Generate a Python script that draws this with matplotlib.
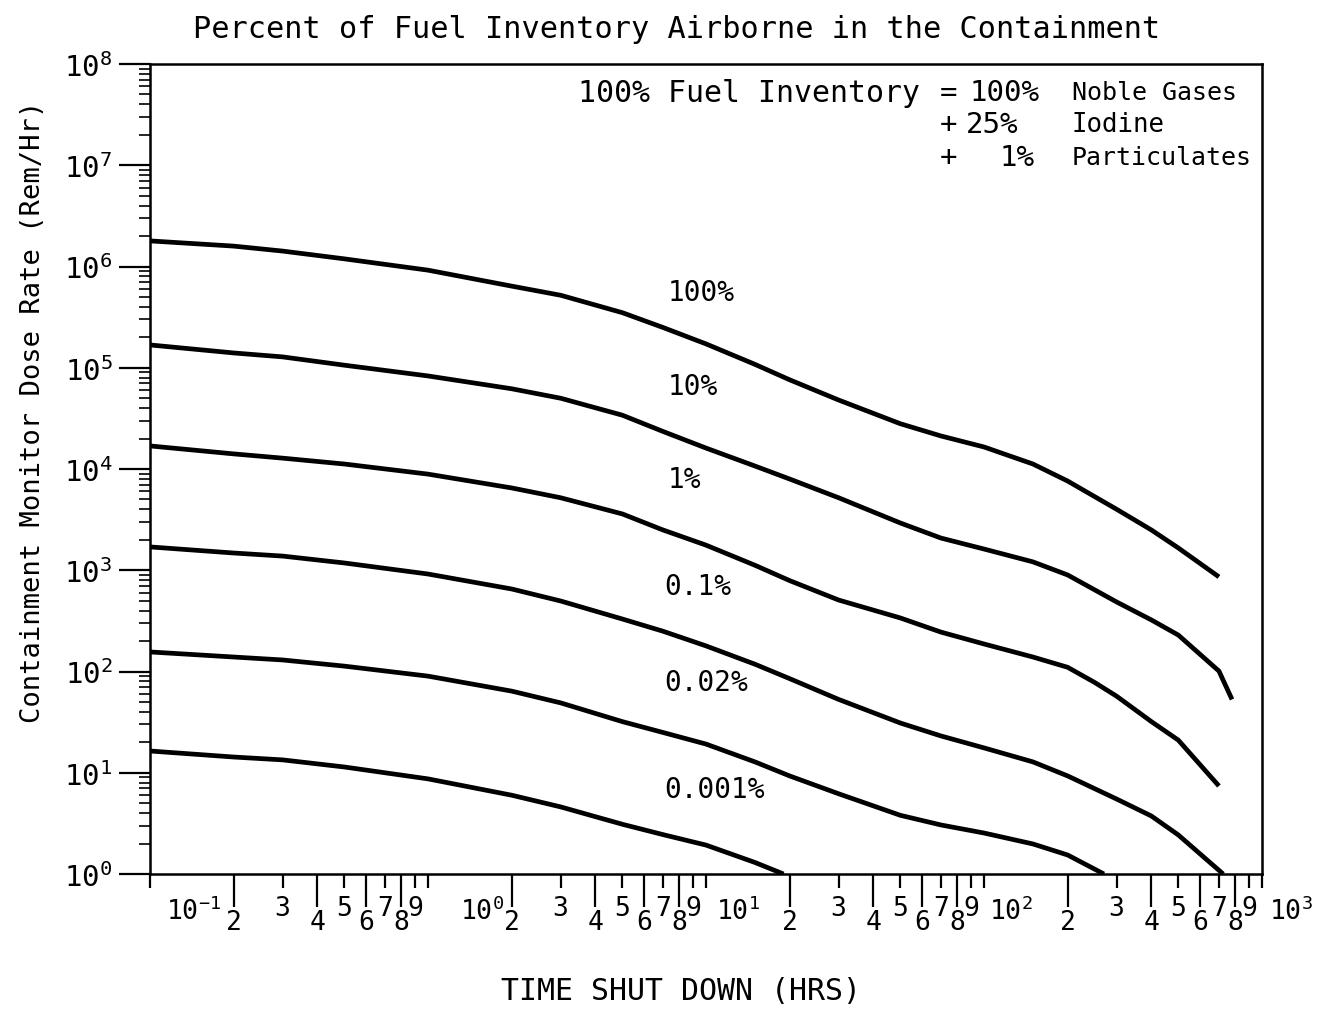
import matplotlib
matplotlib.use('Agg')
import matplotlib.pyplot as plt
import numpy as np
from matplotlib.ticker import FixedLocator, LogLocator, FuncFormatter, NullFormatter

plt.rcParams['font.family'] = 'DejaVu Sans Mono'
plt.rcParams['mathtext.fontset'] = 'custom'
plt.rcParams['mathtext.rm'] = 'DejaVu Sans Mono'
plt.rcParams['mathtext.it'] = 'DejaVu Sans Mono'
plt.rcParams['mathtext.default'] = 'rm'

# time after shutdown (hrs) and dose rate (Rem/Hr)
t_100 = [0.1, 0.2, 0.3, 0.5, 1, 2, 3, 5, 7, 10, 15, 20, 30, 50, 70, 100, 150,
         200, 300, 400, 500, 700]
dose_100 = [1.79e6, 1.59e6, 1.42e6, 1.19e6, 9.2e5, 6.4e5, 5.2e5, 3.5e5, 2.5e5,
            1.72e5, 1.08e5, 7.6e4, 4.8e4, 2.8e4, 2.12e4, 1.65e4, 1.12e4,
            7.6e3, 4.0e3, 2.5e3, 1.66e3, 860]

t_10 = [0.1, 0.2, 0.3, 0.5, 1, 2, 3, 5, 7, 10, 15, 20, 30, 50, 70, 100, 150,
        200, 300, 400, 500, 700, 780]
dose_10 = [1.68e5, 1.40e5, 1.28e5, 1.06e5, 8.3e4, 6.2e4, 5.0e4, 3.4e4, 2.35e4,
           1.61e4, 1.07e4, 7.96e3, 5.2e3, 2.93e3, 2.08e3, 1.62e3, 1.21e3,
           898, 486, 323, 229, 101, 53]

t_1 = [0.1, 0.2, 0.3, 0.5, 1, 2, 3, 5, 7, 10, 15, 20, 30, 50, 70, 100, 150,
       200, 250, 300, 400, 500, 700]
dose_1 = [1.69e4, 1.41e4, 1.28e4, 1.12e4, 8.9e3, 6.5e3, 5.2e3, 3.6e3, 2.5e3,
          1.77e3, 1.12e3, 790, 508, 338, 245, 187, 139, 110, 78, 57, 32, 21, 7.4]

t_01 = [0.1, 0.2, 0.3, 0.5, 1, 2, 3, 5, 7, 10, 15, 20, 30, 50, 70, 100, 150,
        200, 300, 400, 500, 725]
dose_01 = [1.70e3, 1.48e3, 1.38e3, 1.18e3, 918, 653, 497, 330, 250, 179, 118,
           85, 53, 31, 23.1, 17.6, 12.8, 9.3, 5.5, 3.74, 2.43, 1.0]

t_002 = [0.1, 0.2, 0.3, 0.5, 1, 2, 3, 5, 7, 10, 15, 20, 30, 50, 70, 100, 150,
         200, 270]
dose_002 = [156, 139, 130, 113, 90, 64, 49, 32, 25.0, 19.2, 12.8, 9.3, 6.2, 3.8,
            3.05, 2.54, 1.98, 1.54, 1.0]

t_0001 = [0.1, 0.2, 0.3, 0.5, 1, 2, 3, 5, 7, 10, 15, 19]
dose_0001 = [16.4, 14.3, 13.4, 11.4, 8.7, 6.0, 4.6, 3.1, 2.45, 1.93, 1.30, 1.0]

curve_labels = ['100%', '10%', '1%', '0.1%', '0.02%', '0.001%']

W, H = 1340, 1012
def fx(px):
    return px / W
def fy(py):
    return 1 - py / H

fig = plt.figure(figsize=(13.4, 10.12), dpi=100)
ax = fig.add_axes([fx(150), fy(875), (1262 - 150) / W, (875 - 65) / H])

series = [(t_100, dose_100), (t_10, dose_10), (t_1, dose_1),
          (t_01, dose_01), (t_002, dose_002), (t_0001, dose_0001)]
for t, d in series:
    ax.plot(t, d, color='black', linewidth=3.4, solid_capstyle='butt',
            solid_joinstyle='round')

ax.set_xscale('log')
ax.set_yscale('log')
ax.set_xlim(0.1, 1000)
ax.set_ylim(1, 1e8)

for s in ax.spines.values():
    s.set_linewidth(1.8)

# x ticks: long ticks at 2,4,6,8 ; short at 3,5,7,9 and decades
decades = [0.1, 1, 10, 100]
even = [d * k for d in decades for k in (2, 4, 6, 8)]
odd = [d * k for d in decades for k in (3, 5, 7, 9)] + decades + [1000]
ax.xaxis.set_major_locator(FixedLocator(even))
ax.xaxis.set_minor_locator(FixedLocator(odd))

def digit_fmt(v, pos):
    e = np.floor(np.log10(v) + 1e-9)
    k = int(round(v / 10 ** e))
    return '' if k == 1 else str(k)

ax.xaxis.set_major_formatter(FuncFormatter(digit_fmt))
ax.xaxis.set_minor_formatter(FuncFormatter(digit_fmt))
ax.tick_params(axis='x', which='major', direction='out', length=24, width=1.6,
               pad=1, labelsize=19)
ax.tick_params(axis='x', which='minor', direction='out', length=10, width=1.6,
               pad=5, labelsize=19)

dec_labels = [r'$10^{-1}$', r'$10^{0}$', r'$10^{1}$', r'$10^{2}$', r'$10^{3}$']
dec_offsets = [16, 32, 10, 5, 7]
for d, lbl, off in zip(decades + [1000], dec_labels, dec_offsets):
    ax.annotate(lbl, xy=(d, 0), xycoords=('data', 'axes fraction'),
                xytext=(off * 0.72, -45 * 0.72), textcoords='offset points',
                ha='left', va='baseline', fontsize=19, annotation_clip=False)

# y ticks
ax.yaxis.set_major_locator(LogLocator(base=10, numticks=20))
ax.yaxis.set_minor_locator(LogLocator(base=10, subs=np.arange(2, 10), numticks=20))
ax.yaxis.set_major_formatter(FuncFormatter(lambda v, p: r'$10^{%d}$' % int(round(np.log10(v)))))
ax.yaxis.set_minor_formatter(NullFormatter())
ax.tick_params(axis='y', which='major', direction='out', length=22, width=1.6,
               pad=5, labelsize=21)
ax.tick_params(axis='y', which='minor', direction='out', length=8, width=1.2)

# curve labels
label_x = [668, 668, 668, 664, 664, 664]
label_y = [293, 387, 480, 587, 683, 790]
for lbl, lx, ly in zip(curve_labels, label_x, label_y):
    fig.text(fx(lx), fy(ly), lbl, ha='left', va='center', fontsize=20)

# inventory note
fig.text(fx(578), fy(93), '100% Fuel Inventory', ha='left', va='center', fontsize=21.5)
fig.text(fx(940), fy(93), '=', ha='left', va='center', fontsize=21)
fig.text(fx(970), fy(93), '100%', ha='left', va='center', fontsize=21)
fig.text(fx(1072), fy(93), 'Noble Gases', ha='left', va='center', fontsize=18)
fig.text(fx(940), fy(125), '+', ha='left', va='center', fontsize=21)
fig.text(fx(966), fy(125), '25%', ha='left', va='center', fontsize=21)
fig.text(fx(1072), fy(125), 'Iodine', ha='left', va='center', fontsize=18.5)
fig.text(fx(940), fy(158), '+', ha='left', va='center', fontsize=21)
fig.text(fx(1000), fy(158), '1%', ha='left', va='center', fontsize=21)
fig.text(fx(1072), fy(158), 'Particulates', ha='left', va='center', fontsize=18)

fig.text(fx(677), fy(30), 'Percent of Fuel Inventory Airborne in the Containment',
         ha='center', va='center', fontsize=21.8)
fig.text(fx(681), fy(992), 'TIME SHUT DOWN (HRS)', ha='center', va='center', fontsize=21.5)
fig.text(fx(33), fy(412), 'Containment Monitor Dose Rate (Rem/Hr)', rotation=90,
         ha='center', va='center', fontsize=19.5)

fig.savefig('out.png', dpi=100)
